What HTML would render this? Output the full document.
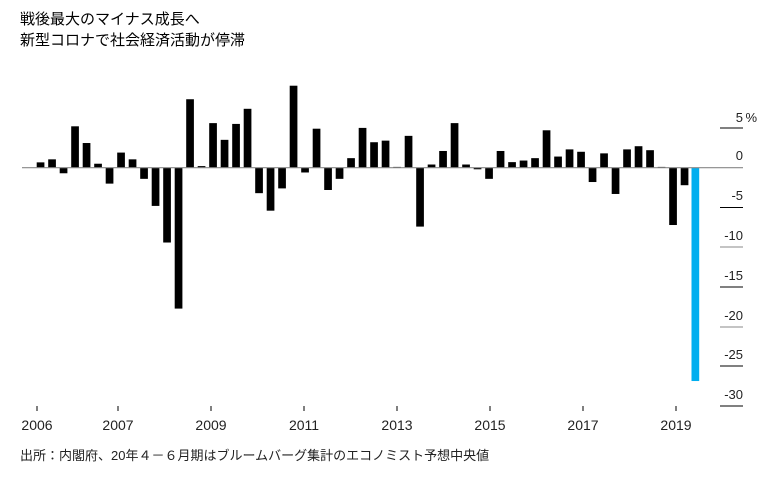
<!DOCTYPE html>
<html><head><meta charset="utf-8"><style>
body{margin:0;background:#fff;width:777px;height:474px;overflow:hidden;font-family:"Liberation Sans","Noto Sans CJK JP",sans-serif;}
</style></head><body>
<svg width="777" height="474" xmlns="http://www.w3.org/2000/svg" font-family="Liberation Sans, Noto Sans CJK JP, sans-serif">
<text x="20" y="24" font-size="15" fill="#000">戦後最大のマイナス成長へ</text>
<text x="20" y="45" font-size="15" fill="#000">新型コロナで社会経済活動が停滞</text>
<g stroke="#000" stroke-width="1">
<line x1="720" y1="128" x2="743" y2="128"/>
<line x1="720" y1="207.5" x2="743" y2="207.5"/>
<line x1="720" y1="247" x2="743" y2="247" stroke="#888"/>
<line x1="720" y1="287" x2="743" y2="287"/>
<line x1="720" y1="327" x2="743" y2="327" stroke="#888"/>
<line x1="720" y1="366" x2="743" y2="366"/>
<line x1="720" y1="406" x2="743" y2="406"/>
</g>
<g font-size="13" fill="#222" text-anchor="end">
<text x="743" y="122">5</text><text x="757" y="122">%</text>
<text x="743" y="160">0</text>
<text x="743" y="200">-5</text>
<text x="743" y="240">-10</text>
<text x="743" y="280">-15</text>
<text x="743" y="320">-20</text>
<text x="743" y="359">-25</text>
<text x="743" y="399">-30</text>
</g>
<g fill="#000">
<rect x="36.7" y="162.37" width="7.7" height="5.33"/>
<rect x="48.2" y="159.34" width="7.7" height="8.36"/>
<rect x="59.7" y="167.7" width="7.7" height="5.57"/>
<rect x="71.2" y="126.31" width="7.7" height="41.39"/>
<rect x="82.7" y="143.02" width="7.7" height="24.68"/>
<rect x="94.2" y="163.72" width="7.7" height="3.98"/>
<rect x="105.7" y="167.7" width="7.7" height="15.92"/>
<rect x="117.2" y="152.58" width="7.7" height="15.12"/>
<rect x="128.7" y="159.34" width="7.7" height="8.36"/>
<rect x="140.2" y="167.7" width="7.7" height="11.14"/>
<rect x="151.7" y="167.7" width="7.7" height="38.21"/>
<rect x="163.2" y="167.7" width="7.7" height="74.82"/>
<rect x="174.7" y="167.7" width="7.7" height="140.89"/>
<rect x="186.2" y="99.24" width="7.7" height="68.46"/>
<rect x="197.7" y="166.11" width="7.7" height="1.59"/>
<rect x="209.2" y="123.12" width="7.7" height="44.58"/>
<rect x="220.7" y="139.84" width="7.7" height="27.86"/>
<rect x="232.2" y="123.92" width="7.7" height="43.78"/>
<rect x="243.7" y="108.8" width="7.7" height="58.9"/>
<rect x="255.2" y="167.7" width="7.7" height="25.47"/>
<rect x="266.7" y="167.7" width="7.7" height="42.98"/>
<rect x="278.2" y="167.7" width="7.7" height="20.7"/>
<rect x="289.7" y="85.71" width="7.7" height="81.99"/>
<rect x="301.2" y="167.7" width="7.7" height="4.78"/>
<rect x="312.7" y="128.7" width="7.7" height="39"/>
<rect x="324.2" y="167.7" width="7.7" height="22.29"/>
<rect x="335.7" y="167.7" width="7.7" height="11.14"/>
<rect x="347.2" y="158.15" width="7.7" height="9.55"/>
<rect x="358.7" y="127.9" width="7.7" height="39.8"/>
<rect x="370.2" y="142.23" width="7.7" height="25.47"/>
<rect x="381.7" y="140.64" width="7.7" height="27.06"/>
<rect x="393.2" y="166.9" width="7.7" height="0.8"/>
<rect x="404.7" y="135.86" width="7.7" height="31.84"/>
<rect x="416.2" y="167.7" width="7.7" height="58.9"/>
<rect x="427.7" y="164.52" width="7.7" height="3.18"/>
<rect x="439.2" y="150.98" width="7.7" height="16.72"/>
<rect x="450.7" y="123.12" width="7.7" height="44.58"/>
<rect x="462.2" y="164.52" width="7.7" height="3.18"/>
<rect x="473.7" y="167.7" width="7.7" height="1.59"/>
<rect x="485.2" y="167.7" width="7.7" height="11.14"/>
<rect x="496.7" y="150.98" width="7.7" height="16.72"/>
<rect x="508.2" y="162.13" width="7.7" height="5.57"/>
<rect x="519.7" y="160.54" width="7.7" height="7.16"/>
<rect x="531.2" y="158.15" width="7.7" height="9.55"/>
<rect x="542.7" y="130.29" width="7.7" height="37.41"/>
<rect x="554.2" y="156.56" width="7.7" height="11.14"/>
<rect x="565.7" y="149.39" width="7.7" height="18.31"/>
<rect x="577.2" y="151.78" width="7.7" height="15.92"/>
<rect x="588.7" y="167.7" width="7.7" height="14.33"/>
<rect x="600.2" y="153.37" width="7.7" height="14.33"/>
<rect x="611.7" y="167.7" width="7.7" height="26.27"/>
<rect x="623.2" y="149.39" width="7.7" height="18.31"/>
<rect x="634.7" y="146.21" width="7.7" height="21.49"/>
<rect x="646.2" y="150.19" width="7.7" height="17.51"/>
<rect x="657.7" y="166.9" width="7.7" height="0.8"/>
<rect x="669.2" y="167.7" width="7.7" height="57.31"/>
<rect x="680.7" y="167.7" width="7.7" height="17.51"/>
<rect x="691.5" y="167.7" width="7.7" height="213.33" fill="#00aeef"/>
</g>
<line x1="22" y1="167.7" x2="743" y2="167.7" stroke="#888" stroke-width="1.2"/>
<g stroke="#000" stroke-width="1">
<line x1="37" y1="406" x2="37" y2="411"/><line x1="118" y1="406" x2="118" y2="411"/>
<line x1="211" y1="406" x2="211" y2="411"/><line x1="304" y1="406" x2="304" y2="411"/>
<line x1="397" y1="406" x2="397" y2="411"/><line x1="490" y1="406" x2="490" y2="411"/>
<line x1="583" y1="406" x2="583" y2="411"/><line x1="676" y1="406" x2="676" y2="411"/>
</g>
<g font-size="14" fill="#222" text-anchor="middle">
<text x="37" y="430">2006</text><text x="118" y="430">2007</text><text x="211" y="430">2009</text>
<text x="304" y="430">2011</text><text x="397" y="430">2013</text><text x="490" y="430">2015</text>
<text x="583" y="430">2017</text><text x="676" y="430">2019</text>
</g>
<text x="20" y="460" font-size="13" fill="#222">出所：内閣府、20年４－６月期はブルームバーグ集計のエコノミスト予想中央値</text>
</svg>
</body></html>
